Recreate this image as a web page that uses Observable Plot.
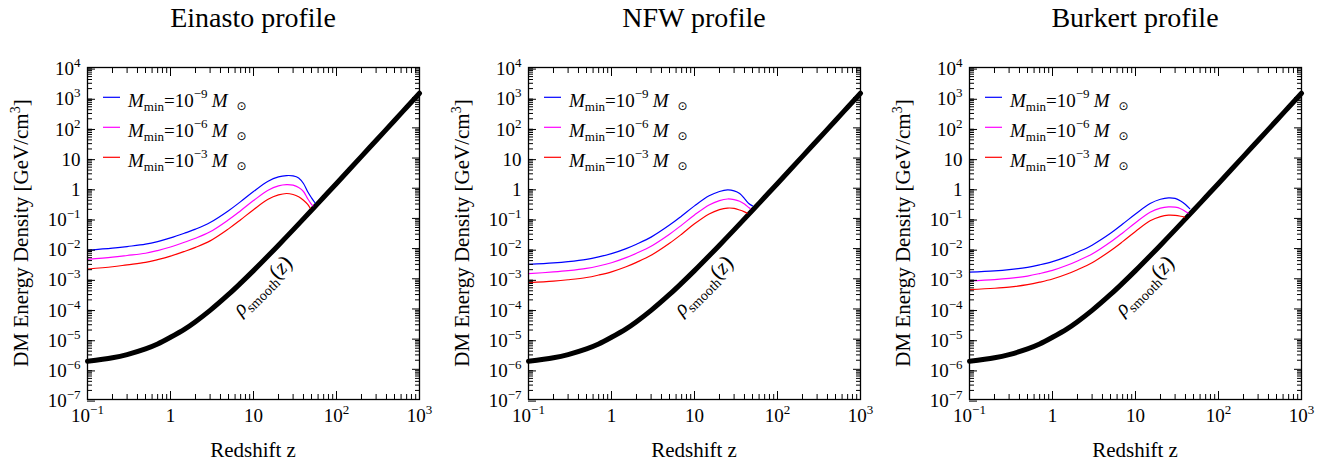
<!DOCTYPE html>
<html><head><meta charset="utf-8">
<script src="https://cdn.jsdelivr.net/npm/d3@7"></script>
<script src="https://cdn.jsdelivr.net/npm/@observablehq/plot@0.6"></script>
<style>
body{margin:0;background:#fff;}
#wrap{display:flex;width:1335px;height:461px;}
.panel{width:441px;height:461px;flex:none;}
svg text{font-family:'Liberation Serif','Times New Roman',serif;}
</style></head><body><div id="wrap"></div>
<script>
// ---------- data ----------
const titles = ["Einasto profile", "NFW profile", "Burkert profile"];

const zSmooth   = [0.1, 0.2, 0.3, 0.5, 0.7, 1, 1.5, 2, 3, 5, 7, 10, 20, 30, 50, 70, 100, 200, 300, 500, 700, 1000];
const rhoSmooth = [1.86e-6, 2.42e-6, 3.08e-6, 4.73e-6, 6.88e-6, 1.15e-5, 2.19e-5, 3.78e-5, 8.96e-5, 3.02e-4, 7.17e-4, 1.86e-3, 1.30e-2, 4.17e-2, 0.186, 0.501, 1.44, 11.4, 38.0, 176, 481, 1404];

// Einasto
const zEinB = [0.1, 0.2, 0.3, 0.5, 0.7, 1, 1.5, 2, 3, 5, 7, 10, 15, 20, 25, 30, 35, 40, 45, 50, 55];
const einB  = [8.8e-3, 1.03e-2, 1.17e-2, 1.40e-2, 1.71e-2, 2.26e-2, 3.3e-2, 4.4e-2, 7.3e-2, 0.18, 0.36, 0.78, 1.71, 2.38, 2.63, 2.57, 2.2, 1.43, 0.76, 0.48, 0.33];
const zEinM = [0.1, 0.2, 0.3, 0.5, 0.7, 1, 1.5, 2, 3, 5, 7, 10, 15, 20, 25, 30, 35, 40, 45, 50, 52];
const einM  = [4.4e-3, 5.2e-3, 5.9e-3, 7.0e-3, 8.6e-3, 1.13e-2, 1.65e-2, 2.2e-2, 3.6e-2, 9.0e-2, 0.18, 0.39, 0.86, 1.2, 1.32, 1.26, 1.05, 0.78, 0.45, 0.29, 0.26];
const zEinR = [0.1, 0.2, 0.3, 0.5, 0.7, 1, 1.5, 2, 3, 5, 7, 10, 15, 20, 25, 30, 35, 40, 45, 48];
const einR  = [2.1e-3, 2.5e-3, 2.9e-3, 3.5e-3, 4.3e-3, 5.6e-3, 8.2e-3, 1.1e-2, 1.8e-2, 4.5e-2, 9.0e-2, 0.195, 0.43, 0.6, 0.67, 0.62, 0.52, 0.4, 0.29, 0.22];

// NFW
const zNfwB = [0.1, 0.2, 0.3, 0.5, 0.7, 1, 1.5, 2, 3, 5, 7, 10, 15, 20, 25, 30, 35, 40, 45, 50];
const nfwB  = [3.0e-3, 3.36e-3, 3.7e-3, 4.4e-3, 5.3e-3, 6.8e-3, 1.0e-2, 1.4e-2, 2.4e-2, 6.0e-2, 0.12, 0.26, 0.56, 0.78, 0.88, 0.82, 0.67, 0.455, 0.31, 0.26];
const zNfwM = [0.1, 0.2, 0.3, 0.5, 0.7, 1, 1.5, 2, 3, 5, 7, 10, 15, 20, 25, 30, 35, 40, 45, 47];
const nfwM  = [1.48e-3, 1.68e-3, 1.85e-3, 2.2e-3, 2.65e-3, 3.4e-3, 5.0e-3, 7.0e-3, 1.2e-2, 3.0e-2, 6.0e-2, 0.13, 0.28, 0.39, 0.44, 0.42, 0.37, 0.3, 0.23, 0.21];
const zNfwR = [0.1, 0.2, 0.3, 0.5, 0.7, 1, 1.5, 2, 3, 5, 7, 10, 15, 20, 25, 30, 35, 40, 43];
const nfwR  = [7.5e-4, 8.4e-4, 9.3e-4, 1.1e-3, 1.33e-3, 1.7e-3, 2.5e-3, 3.5e-3, 6.0e-3, 1.5e-2, 3.0e-2, 6.6e-2, 0.14, 0.195, 0.22, 0.215, 0.19, 0.165, 0.15];

// Burkert
const zBurB = [0.1, 0.2, 0.3, 0.5, 0.7, 1, 1.5, 2, 3, 5, 7, 10, 15, 20, 25, 30, 35, 40, 45];
const burB  = [1.65e-3, 1.82e-3, 2.0e-3, 2.4e-3, 2.9e-3, 3.7e-3, 5.4e-3, 7.6e-3, 1.3e-2, 3.2e-2, 6.5e-2, 0.14, 0.31, 0.43, 0.48, 0.46, 0.38, 0.29, 0.21];
const zBurM = [0.1, 0.2, 0.3, 0.5, 0.7, 1, 1.5, 2, 3, 5, 7, 10, 15, 20, 25, 30, 35, 40, 43];
const burM  = [8.5e-4, 9.4e-4, 1.03e-3, 1.23e-3, 1.49e-3, 1.9e-3, 2.8e-3, 3.9e-3, 6.6e-3, 1.65e-2, 3.3e-2, 7.2e-2, 0.16, 0.22, 0.24, 0.235, 0.21, 0.17, 0.15];
const zBurR = [0.1, 0.2, 0.3, 0.5, 0.7, 1, 1.5, 2, 3, 5, 7, 10, 15, 20, 25, 30, 35, 39];
const burR  = [4.4e-4, 4.85e-4, 5.3e-4, 6.4e-4, 7.7e-4, 9.8e-4, 1.44e-3, 2.0e-3, 3.4e-3, 8.5e-3, 1.7e-2, 3.7e-2, 0.083, 0.115, 0.128, 0.126, 0.118, 0.11];

const seriesColors = ["#0000ff", "#ff00ff", "#ff0000"];
const legendExponents = ["−9", "−6", "−3"];

const xMajor = [0.1, 1, 10, 100, 1000];
const xTickLabels = ["10^−1", "1", "10", "10^2", "10^3"];
const yMajor = [1e-7, 1e-6, 1e-5, 1e-4, 1e-3, 1e-2, 1e-1, 1, 10, 100, 1000, 10000];
const yTickLabels = ["10^−7", "10^−6", "10^−5", "10^−4", "10^−3", "10^−2", "10^−1", "1", "10", "10^2", "10^3", "10^4"];
const minorMult = [2, 3, 4, 5, 6, 7, 8, 9];

// ---------- build ----------
const xMinor = [0.1, 1, 10, 100].flatMap(d => minorMult.map(m => +(d * m).toPrecision(3)));
const yMinor = yMajor.slice(0, -1).flatMap(d => minorMult.map(m => +(d * m).toPrecision(3)));
const toRows = (zs, vs) => zs.map((z, i) => ({z, rho: vs[i]}));
const smoothRows = toRows(zSmooth, rhoSmooth);

const panels = [
  [toRows(zEinB, einB), toRows(zEinM, einM), toRows(zEinR, einR)],
  [toRows(zNfwB, nfwB), toRows(zNfwM, nfwM), toRows(zNfwR, nfwR)],
  [toRows(zBurB, burB), toRows(zBurM, burM), toRows(zBurR, burR)]
];

const FONT = "'Liberation Serif', 'Times New Roman', serif";
const wrap = document.getElementById("wrap");

panels.forEach((series, pi) => {
  const W = 441, H = 461, mL = 87, mR = 22, mT = 67, mB = 62;
  const plot = Plot.plot({
    width: W, height: H,
    marginLeft: mL, marginRight: mR, marginTop: mT, marginBottom: mB,
    style: {fontFamily: FONT, background: "white", color: "black", overflow: "visible"},
    x: {type: "log", domain: [0.1, 1000], label: null},
    y: {type: "log", domain: [1e-7, 1e4], label: null},
    marks: [
      Plot.line(smoothRows, {x: "z", y: "rho", stroke: "black", strokeWidth: 5, curve: "catmull-rom"}),
      ...series.map((rows, si) =>
        Plot.line(rows, {x: "z", y: "rho", stroke: seriesColors[si], strokeWidth: 1.2, curve: "catmull-rom"})),
      Plot.axisX(xMinor, {anchor: "bottom", tickSize: -5, fill: "none", label: null}),
      Plot.axisX(xMinor, {anchor: "top", tickSize: -5, fill: "none", label: null}),
      Plot.axisX(xMajor, {anchor: "top", tickSize: -8, fill: "none", label: null}),
      Plot.axisX(xMajor, {anchor: "bottom", tickSize: -8, tickPadding: 17, fontSize: 19,
        tickFormat: d => xTickLabels[xMajor.indexOf(d)], label: null}),
      Plot.axisY(yMinor, {anchor: "left", tickSize: -5, fill: "none", label: null}),
      Plot.axisY(yMinor, {anchor: "right", tickSize: -5, fill: "none", label: null}),
      Plot.axisY(yMajor, {anchor: "right", tickSize: -8, fill: "none", label: null}),
      Plot.axisY(yMajor, {anchor: "left", tickSize: -8, tickPadding: 15, fontSize: 19, dy: 1.6,
        tickFormat: d => yTickLabels[yMajor.indexOf(d)], label: null}),
      Plot.frame({stroke: "black", strokeWidth: 1.3})
    ]
  });

  const svg = d3.select(plot);
  // superscripts in tick labels
  svg.selectAll("text").each(function () {
    const t = this.textContent;
    const m = t.match(/^(.*)\^(.*)$/);
    if (!m) return;
    const s = d3.select(this);
    s.text(null);
    s.append("tspan").text(m[1]);
    s.append("tspan").attr("dy", -8).attr("font-size", 13).text(m[2]);
  });
  svg.selectAll("g").attr("font-variant", null);

  const xs = plot.scale("x"), ys = plot.scale("y");
  const cx = (mL + W - mR) / 2, cy = (mT + H - mB) / 2;
  const g = svg.append("g").attr("font-family", FONT).attr("fill", "black");

  // title
  g.append("text").attr("x", cx).attr("y", 27).attr("text-anchor", "middle")
    .attr("font-size", 28).text(titles[pi]);
  // x label
  g.append("text").attr("x", cx).attr("y", 457).attr("text-anchor", "middle")
    .attr("font-size", 21).text("Redshift z");
  // y label
  const yl = g.append("text").attr("transform", `translate(28,${cy}) rotate(-90)`)
    .attr("text-anchor", "middle").attr("font-size", 21);
  yl.append("tspan").text("DM Energy Density [GeV/cm");
  yl.append("tspan").attr("dy", -8).attr("font-size", 14).text("3");
  yl.append("tspan").attr("dy", 8).text("]");

  // legend
  legendExponents.forEach((ex, i) => {
    const ly = 97.3 + 30 * i;
    g.append("line").attr("x1", 103).attr("x2", 120).attr("y1", ly).attr("y2", ly)
      .attr("stroke", seriesColors[i]).attr("stroke-width", 1.2);
    const t = g.append("text").attr("x", 128).attr("y", ly + 9.3)
      .attr("font-size", 19).attr("text-anchor", "start");
    t.append("tspan").attr("font-style", "italic").text("M");
    t.append("tspan").attr("font-size", 13).attr("dy", 4).text("min");
    t.append("tspan").attr("dy", -4).text("=10");
    t.append("tspan").attr("font-size", 13).attr("dy", -9).text(ex);
    t.append("tspan").attr("font-style", "italic").attr("dy", 9).attr("dx", 4).text("M");
    t.append("tspan").attr("font-size", 12).attr("dx", 9).attr("dy", 3)
      .style("font-family", "'DejaVu Sans', sans-serif").text("⊙");
  });

  // rho_smooth label, anchored to the smooth curve at z = 10
  const ax = xs.apply(zSmooth[11]), ay = ys.apply(rhoSmooth[11]);
  const lab = g.append("text")
    .attr("transform", `translate(${ax + 10},${ay + 16}) rotate(-45)`)
    .attr("text-anchor", "middle").attr("y", 6).attr("font-size", 21);
  lab.append("tspan").attr("font-style", "italic").text("ρ");
  lab.append("tspan").attr("font-size", 14).attr("dy", 5).text("smooth");
  lab.append("tspan").attr("font-size", 22).attr("dy", -5).text("(");
  lab.append("tspan").attr("font-style", "italic").text("z");
  lab.append("tspan").attr("font-size", 22).text(")");

  const div = document.createElement("div");
  div.className = "panel";
  div.appendChild(plot);
  wrap.appendChild(div);
});
</script>
</body></html>
